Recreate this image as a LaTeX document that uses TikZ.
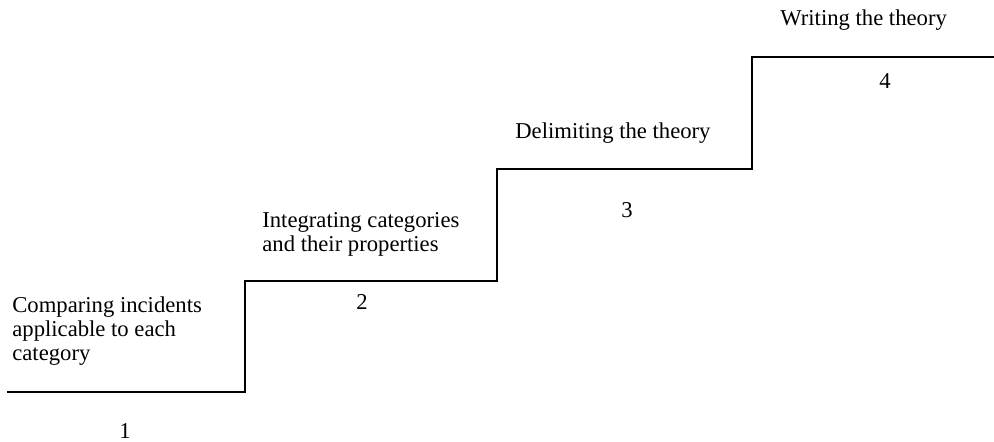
\documentclass[tikz,border=0pt]{standalone}
\usepackage{fontspec}
\setmainfont{Liberation Serif}
\usepackage{tikz}
\usetikzlibrary{positioning}
\tikzstyle{stair} = [draw, line width=0.6pt]
\tikzstyle{steptext} = [inner sep=0pt, align=left, font=\fontsize{12.9}{13.9}\selectfont]
\tikzstyle{stepnum} = [inner sep=0pt, font=\fontsize{12.9}{13.9}\selectfont]

\begin{document}
\begin{tikzpicture}

\useasboundingbox (0,0) rectangle (19.88,8.82);

%Staircase
\draw [stair] (0.14,0.98) -- (4.9,0.98) -- (4.9,3.2) -- (9.94,3.2) -- (9.94,5.44)
  -- (15.04,5.44) -- (15.04,7.68) -- (19.88,7.68);

%Step texts
\node (compare) [steptext, anchor=north west] at (0.24,2.9) {Comparing incidents\\applicable to each\\category};
\node (integrate) [steptext, anchor=north west] at (5.24,4.58) {Integrating categories\\and their properties};
\node (delimit) [steptext, anchor=base west] at (10.3,6.06) {Delimiting the theory};
\node (write) [steptext, anchor=base west] at (15.6,8.32) {Writing the theory};

%Step numbers
\node (n1) [stepnum, anchor=base] at (2.5,0.06) {1};
\node (n2) [stepnum, anchor=base] at (7.24,2.64) {2};
\node (n3) [stepnum, anchor=base] at (12.54,4.48) {3};
\node (n4) [stepnum, anchor=base] at (17.7,7.06) {4};

\end{tikzpicture}
\end{document}
